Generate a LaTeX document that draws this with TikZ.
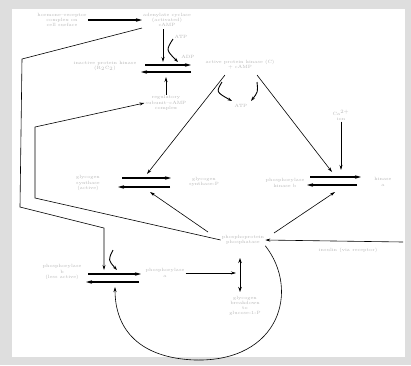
\documentclass[tikz,border=0pt]{standalone}
\usetikzlibrary{arrows.meta,positioning,calc}

\begin{document}
\begin{tikzpicture}[x=1pt,y=-1pt,
  lbl/.style={text=black!28, font=\fontsize{4.6}{5.2}\selectfont, align=center, inner sep=1pt},
  bar/.style={-{Stealth[length=6pt,width=3.5pt]}, line width=1.1pt},
  link/.style={-{Stealth[length=5pt,width=3pt]}, line width=0.6pt},
  cof/.style={-{Stealth[length=4.5pt,width=3pt]}, line width=0.9pt}
]
  % Frame
  \fill[black!13] (0,0) rectangle (411,365);
  \fill[white] (12,9) rectangle (405,357);
  \useasboundingbox (0,0) rectangle (411,365);

  % Species
  \node[lbl] (horm) at (62,20) {hormone--receptor\\complex on\\cell surface};
  \node[lbl] (cycl) at (167,20) {adenylate cyclase\\(activated)\\cAMP};
  \node[lbl] (pkin) at (105,66) {inactive protein kinase\\(R$_2$C$_2$)};
  \node[lbl] (pkact) at (240,65) {active protein kinase (C)\\+ cAMP};
  \node[lbl] (regsub) at (166,103) {regulatory\\subunit--cAMP\\complex};
  \node[lbl] (atp1) at (181,37) {ATP};
  \node[lbl] (adp1) at (188,57) {ADP};
  \node[lbl] (atp2) at (241,106) {ATP};
  \node[lbl] (synA) at (88,183) {glycogen\\synthase\\(active)};
  \node[lbl] (synB) at (204,182) {glycogen\\synthase-P};
  \node[lbl] (calc) at (341,115) {Ca$^{2+}$\\ion};
  \node[lbl] (kinB) at (285,183) {phosphorylase\\kinase b};
  \node[lbl] (kinA) at (383,182) {kinase\\a};
  \node[lbl] (ppase) at (243,240) {phosphoprotein\\phosphatase};
  \node[lbl] (insl) at (348,250) {insulin (via receptor)};
  \node[lbl] (phosB) at (62,272) {phosphorylase\\b\\(less active)};
  \node[lbl] (phosA) at (165,273) {phosphorylase\\a};
  \node[lbl] (glyc) at (245,306) {glycogen\\breakdown\\to\\glucose-1-P};

  % Reaction ends
  \coordinate (r1a) at (145,65);  \coordinate (r1b) at (191,65);
  \coordinate (r1c) at (191,72);  \coordinate (r1d) at (141,72);
  \coordinate (r2a) at (122,178); \coordinate (r2b) at (171,178);
  \coordinate (r2c) at (170,187); \coordinate (r2d) at (118,187);
  \coordinate (r3a) at (310,177); \coordinate (r3b) at (361,177);
  \coordinate (r3c) at (357,185); \coordinate (r3d) at (307,185);
  \coordinate (r4a) at (88,274);  \coordinate (r4b) at (141,274);
  \coordinate (r4c) at (139,282); \coordinate (r4d) at (86,282);
  \coordinate (vtop) at (240,258); \coordinate (vbot) at (240,292);
  \coordinate (insin) at (403,242);

  % Reactions
  \draw[bar] (r1a) -- (r1b);  \draw[bar] (r1c) -- (r1d);
  \draw[bar] (r2a) -- (r2b);  \draw[bar] (r2c) -- (r2d);
  \draw[bar] (r3a) -- (r3b);  \draw[bar] (r3c) -- (r3d);
  \draw[bar] (r4a) -- (r4b);  \draw[bar] (r4c) -- (r4d);
  \draw[{Stealth[length=5pt,width=3.5pt]}-{Stealth[length=5pt,width=3.5pt]}, line width=1pt] (vtop) -- (vbot);

  % Arrows
  \draw[bar] (horm.east) -- (cycl.west);
  \draw[link, line width=0.9pt] (163,29) -- (163,62);
  \draw[cof] (173,39) .. controls (166,50) .. (178,62);
  \draw[link, line width=0.9pt] (regsub.north) -- (166,77);
  \draw[link] (225,75) -- (147,174);
  \draw[link] (257,75) -- (332,172);
  \draw[cof] (222,82) .. controls (216,92) .. (232,101);
  \draw[cof] (257,82) .. controls (258,92) .. (251,101);
  \draw[link] (calc.south) -- (341,170);
  \draw[link] (208,232) -- (150,192);
  \draw[link] (274,233) -- (335,192);
  \draw[link] (insin) -- (ppase.east);
  \draw[link] (cycl.south west) -- (22,59) -- (20,207) -- (104,228) -- (104,270);
  \draw[cof] (113,250) .. controls (108,260) .. (117,270);
  \draw[link] (ppase.west) -- (35,198) -- (35,127) -- (regsub.west);
  \draw[link] (phosA.east) -- (236,273);
  \draw[link] (ppase.south east) .. controls (300,290) and (280,362) .. (195,360)
    .. controls (140,358) and (115,330) .. (115,287);
\end{tikzpicture}
\end{document}
